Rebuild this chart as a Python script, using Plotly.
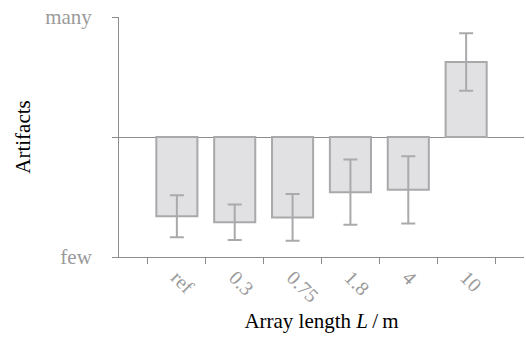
import plotly.graph_objects as go

categories = ["ref", "0.3", "0.75", "1.8", "4", "10"]
values = [-0.66, -0.71, -0.67, -0.46, -0.44, 0.625]
errors = [0.175, 0.148, 0.195, 0.272, 0.28, 0.24]
y_tickvals = [-1, 0, 1]
y_ticktext = ["few", "", "many"]

FONT = "Liberation Serif"
GRAY_TXT = "#9a9a9a"
AXIS = "#8c8c8c"

fig = go.Figure(
    go.Bar(
        x=categories,
        y=values,
        width=0.71,
        marker=dict(color="#e1e1e3", line=dict(color="#a9a9ab", width=2)),
        error_y=dict(type="data", array=errors, color="#aaaaac", thickness=2, width=7),
    )
)

fig.update_layout(
    width=526,
    height=337,
    margin=dict(l=119, r=2, t=17, b=80),
    plot_bgcolor="white",
    paper_bgcolor="white",
    font=dict(family=FONT, size=21, color="black"),
    showlegend=False,
)

fig.update_xaxes(
    type="category",
    range=[-1, 6],
    automargin=False,
    showline=True,
    linecolor=AXIS,
    linewidth=1,
    ticks="outside",
    tickson="boundaries",
    ticklen=6,
    tickcolor=AXIS,
    tickangle=45,
    tickfont=dict(family=FONT, size=20, color=GRAY_TXT),
    showgrid=False,
    title=dict(text="Array length <i>L</i>\u2009/\u2009m", font=dict(family=FONT, size=21, color="black"), standoff=7),
)

fig.update_yaxes(
    range=[-1, 1],
    automargin=False,
    tickvals=y_tickvals,
    ticktext=y_ticktext,
    showline=True,
    linecolor=AXIS,
    linewidth=1,
    ticks="outside",
    ticklen=6,
    tickcolor=AXIS,
    ticklabelstandoff=16,
    tickfont=dict(family=FONT, size=21, color=GRAY_TXT),
    showgrid=False,
    zeroline=True,
    zerolinecolor=AXIS,
    zerolinewidth=1,
    title=dict(text="Artifacts", font=dict(family=FONT, size=21, color="black"), standoff=8),
)

fig.write_html(
    "out.html",
    config={"displayModeBar": False, "staticPlot": True},
    post_script="document.body.style.margin='0';document.body.style.overflow='hidden';",
)
